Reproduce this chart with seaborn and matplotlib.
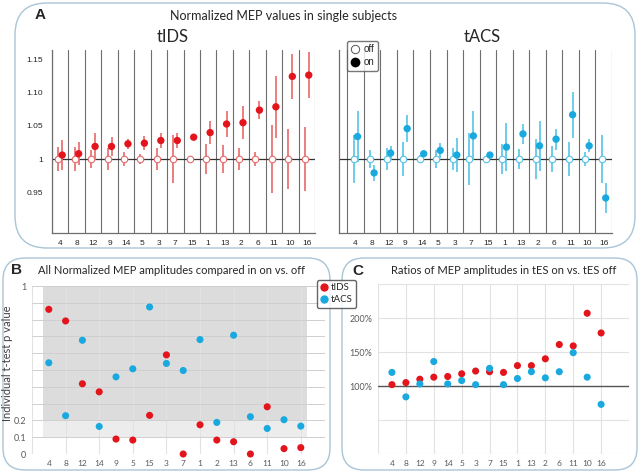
import numpy as np
import pandas as pd
from matplotlib import pyplot as plt
from matplotlib.patches import FancyBboxPatch
from matplotlib.lines import Line2D
import seaborn as sns

# panel A: subjects ordered by effect size
subj_a = ['4', '8', '12', '9', '14', '5', '3', '7', '15', '1', '13', '2', '6', '11', '10', '16']
tids_on = [1.006, 1.008, 1.019, 1.019, 1.023, 1.024, 1.028, 1.028, 1.033, 1.040, 1.053, 1.055, 1.074, 1.079, 1.125, 1.127]
tids_on_err = [0.023, 0.017, 0.020, 0.015, 0.008, 0.011, 0.011, 0.012, 0.004, 0.017, 0.019, 0.025, 0.014, 0.047, 0.034, 0.035]
tids_off_err = [0.018, 0.018, 0.013, 0.016, 0.011, 0.007, 0.017, 0.036, 0.004, 0.023, 0.021, 0.016, 0.011, 0.052, 0.046, 0.048]
tacs_on = [1.034, 0.979, 1.009, 1.046, 1.008, 1.013, 1.006, 1.035, 1.006, 1.018, 1.038, 1.020, 1.030, 1.067, 1.020, 0.941]
tacs_on_err = [0.038, 0.012, 0.010, 0.020, 0.004, 0.011, 0.026, 0.037, 0.003, 0.036, 0.015, 0.038, 0.016, 0.035, 0.010, 0.022]
tacs_off_err = [0.036, 0.014, 0.016, 0.025, 0.006, 0.013, 0.017, 0.039, 0.002, 0.023, 0.015, 0.030, 0.019, 0.026, 0.011, 0.036]

# panel B: p values
subj_b = ['4', '8', '12', '14', '9', '5', '15', '3', '7', '1', '2', '13', '6', '11', '10', '16']
p_tids = [0.861, 0.792, 0.418, 0.370, 0.089, 0.083, 0.230, 0.590, 0.0, 0.174, 0.083, 0.073, 0.0, 0.281, 0.032, 0.038]
p_tacs = [0.543, 0.228, 0.677, 0.164, 0.459, 0.507, 0.875, 0.539, 0.497, 0.681, 0.188, 0.707, 0.222, 0.152, 0.204, 0.166]

# panel C: ratios on/off in %
subj_c = ['4', '8', '12', '9', '14', '5', '3', '7', '15', '1', '13', '2', '6', '11', '10', '16']
ratio_tids = [102, 105, 110, 113, 114, 118, 122, 121, 120, 130, 130, 140, 161, 159, 207, 178]
ratio_tacs = [120, 84, 103, 136, 103, 108, 102, 126, 102, 111, 121, 112, 121, 149, 113, 73]

RED = '#e3141c'
BLUE = '#1aa9de'
RED_BAR = '#e86a6a'
BLUE_BAR = '#55c3e6'
W, H = 640, 474

sns.set_style('white')
plt.rcParams['font.family'] = ['Liberation Sans', 'DejaVu Sans']
TFONT = ['Lato', 'DejaVu Sans']


def ax_px(fig, x0, y0, x1, y1):
    return fig.add_axes([x0 / W, 1 - y1 / H, (x1 - x0) / W, (y1 - y0) / H])


def txt(fig, x, y, s, **kw):
    fig.text(x / W, 1 - y / H, s, ha='center', va='center', **kw)


def box(fig, x0, y0, x1, y1, r):
    p = FancyBboxPatch((x0 / 100, (H - y1) / 100), (x1 - x0) / 100, (y1 - y0) / 100,
                       boxstyle=f'round,pad=0,rounding_size={r}', transform=fig.dpi_scale_trans,
                       fill=False, edgecolor='#a9c5d6', lw=1.0)
    fig.add_artist(p)


def panel_a(ax, on, on_err, off_err, color, bar_color, show_labels, xleft):
    pos = np.arange(len(subj_a))
    for b in np.arange(-0.5, len(subj_a) + 0.5, 1):
        ax.axvline(b, color='#6e6e6e', lw=0.8, zorder=1)
    ax.axhline(1, color='#333333', lw=0.9, zorder=2)
    ax.errorbar(pos - 0.12, np.ones(len(pos)), yerr=off_err, fmt='none', ecolor=bar_color, elinewidth=1.2, zorder=3)
    ax.errorbar(pos + 0.12, on, yerr=on_err, fmt='none', ecolor=bar_color, elinewidth=1.2, zorder=3)
    df = pd.DataFrame({'x': pos, 'on': on})
    sns.scatterplot(x=df['x'] - 0.12, y=np.ones(len(pos)), ax=ax, s=22, facecolor='white',
                    edgecolor=bar_color, linewidth=0.8, zorder=4)
    sns.scatterplot(x=df['x'] + 0.12, y=df['on'], ax=ax, s=28, color=color, edgecolor='none', zorder=5)
    ax.set_xlim(xleft, len(subj_a) - 0.5)
    ax.set_ylim(0.888, 1.165)
    ax.set_xticks(pos)
    ax.set_xticklabels(subj_a, fontsize=6)
    ax.set_yticks([0.95, 1.0, 1.05, 1.10, 1.15])
    if show_labels:
        ax.set_yticklabels(['0.95', '1', '1.05', '1.10', '1.15'], fontsize=6)
    else:
        ax.set_yticklabels([])
    ax.tick_params(axis='x', length=0, pad=5)
    ax.tick_params(axis='y', length=3, width=0.8, color='#606060', direction='out' if show_labels else 'in')
    ax.set_xlabel('')
    ax.set_ylabel('')
    for s in ['left', 'bottom']:
        ax.spines[s].set_color('#6e6e6e')
        ax.spines[s].set_linewidth(0.9)
    ax.spines['top'].set_visible(False)
    ax.spines['right'].set_visible(False)
    ax.set_facecolor('none')


def excel_axes(ax, labels):
    ax.set_facecolor('none')
    for s in ax.spines.values():
        s.set_visible(False)
    ax.set_xticks(np.arange(len(labels)))
    ax.set_xticklabels(labels, fontsize=6, color='#595959', family=TFONT)
    ax.tick_params(length=0, pad=4)
    ax.set_xlabel('')
    for x in range(-1, len(labels) + 2, 2):
        ax.axvline(x, color='#e2e2e2', lw=0.8, zorder=0.5)


fig = plt.figure(figsize=(6.4, 4.74), dpi=100)

box(fig, 15, 3, 635, 248, 0.32)
box(fig, 3, 258, 330, 470, 0.22)
box(fig, 342, 258, 637, 470, 0.22)

# A
txt(fig, 40, 15, 'A', fontsize=11, fontweight='bold', family=['Liberation Sans'])
txt(fig, 283, 16, 'Normalized MEP values in single subjects', fontsize=9, family=TFONT)
txt(fig, 173, 37, 'tIDS', fontsize=12, family=TFONT)
txt(fig, 482, 37, 'tACS', fontsize=12, family=TFONT)

ax1 = ax_px(fig, 52, 50, 315, 233)
panel_a(ax1, tids_on, tids_on_err, tids_off_err, RED, RED_BAR, True, -0.5)
ax2 = ax_px(fig, 339, 50, 612, 233)
panel_a(ax2, tacs_on, tacs_on_err, tacs_off_err, BLUE, BLUE_BAR, False, -1.0)

h_off = Line2D([], [], marker='o', ls='none', mfc='white', mec='#555555', mew=0.7, ms=6, label='off')
h_on = Line2D([], [], marker='o', ls='none', mfc='black', mec='black', ms=6, label='on')
fig.legend(handles=[h_off, h_on], loc='upper left', bbox_to_anchor=(347 / W, 1 - 41 / H),
           fontsize=7, frameon=True, edgecolor='#555555', fancybox=True, handletextpad=0.4,
           borderpad=0.35, labelspacing=0.3, handlelength=1.0, borderaxespad=0)

# B
txt(fig, 16, 270, 'B', fontsize=11, fontweight='bold', family=['Liberation Sans'])
txt(fig, 172, 271, 'All Normalized MEP amplitudes compared in on vs. off', fontsize=8, family=TFONT)
axb = ax_px(fig, 32, 286, 325, 454)
posb = np.arange(len(subj_b))
axb.axhspan(0.2, 1.0, xmin=(-0.36 + 1) / 17.44, xmax=(15.36 + 1) / 17.44, color='#dcdcdc', lw=0, zorder=0)
axb.axhspan(0.1, 0.2, xmin=(-0.36 + 1) / 17.44, xmax=(15.36 + 1) / 17.44, color='#ececec', lw=0, zorder=0)
for yv in np.arange(0.1, 1.01, 0.1):
    axb.axhline(yv, color='#cfcfcf', lw=0.7, zorder=0.6)
df_b = pd.DataFrame({'x': np.concatenate([posb, posb]),
                     'p': p_tids + p_tacs,
                     'stim': ['tIDS'] * len(posb) + ['tACS'] * len(posb)})
sns.scatterplot(data=df_b, x='x', y='p', hue='stim', palette={'tIDS': RED, 'tACS': BLUE},
                s=26, edgecolor='none', legend=False, ax=axb, clip_on=False, zorder=3)
excel_axes(axb, subj_b)
axb.set_xlim(-1, 16.44)
axb.set_ylim(0, 1)
axb.set_yticks([0, 0.1, 0.2, 1.0])
axb.set_yticklabels(['0', '0.1', '0.2', '1'], fontsize=6.5, color='#595959', family=TFONT)
axb.set_ylabel('')
txt(fig, 8, 363, 'Individual t-test p value', fontsize=8, rotation=90, family=TFONT, color='#404040')

# C
txt(fig, 358, 271, 'C', fontsize=11, fontweight='bold', family=['Liberation Sans'])
txt(fig, 504, 271, 'Ratios of MEP amplitudes in tES on vs. tES off', fontsize=8, family=TFONT)
axc = ax_px(fig, 378, 284, 629, 454)
posc = np.arange(len(subj_c))
for yv in range(50, 251, 50):
    axc.axhline(yv, color='#e2e2e2', lw=0.8, zorder=0.5)
axc.axhline(0, color='#d0d0d0', lw=0.8, zorder=0.5)
axc.axhline(100, color='#555555', lw=1.0, zorder=1)
df_c = pd.DataFrame({'x': np.concatenate([posc, posc]),
                     'r': ratio_tids + ratio_tacs,
                     'stim': ['tIDS'] * len(posc) + ['tACS'] * len(posc)})
sns.scatterplot(data=df_c, x='x', y='r', hue='stim', palette={'tIDS': RED, 'tACS': BLUE},
                s=26, edgecolor='none', legend=False, ax=axc, clip_on=False, zorder=3)
excel_axes(axc, subj_c)
axc.set_xlim(-1, 17)
axc.set_ylim(0, 250)
axc.set_yticks([100, 150, 200])
axc.set_yticklabels(['100%', '150%', '200%'], fontsize=6.5, color='#595959', family=TFONT)
axc.set_ylabel('')

h_t = Line2D([], [], marker='o', ls='none', color=RED, ms=5, label='tIDS')
h_a = Line2D([], [], marker='o', ls='none', color=BLUE, ms=5, label='tACS')
fig.legend(handles=[h_t, h_a], loc='upper left', bbox_to_anchor=(317 / W, 1 - 280 / H),
           prop={'family': TFONT, 'size': 7}, frameon=True, edgecolor='#404040', fancybox=True,
           handletextpad=0.3, borderpad=0.35, labelspacing=0.3, handlelength=0.8, borderaxespad=0)

fig.savefig('out.png', dpi=100)
